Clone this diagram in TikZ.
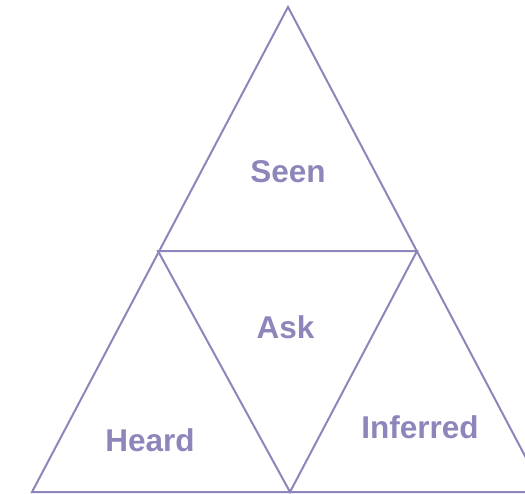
\documentclass[tikz,border=0pt]{standalone}
\usepackage{fontspec}
\setmainfont{Liberation Sans}
\definecolor{lav}{RGB}{140,134,186}
\begin{document}
\begin{tikzpicture}[x=1pt,y=-1pt,
  edge/.style={draw=lav,line width=2pt,line join=miter},
  lbl/.style={text=lav,font=\fontsize{31.5}{36}\selectfont\bfseries,inner sep=0pt,anchor=base}]
\useasboundingbox (0,0) rectangle (525,493);
\clip (0,0) rectangle (525,493);
\coordinate (A) at (288,7);
\coordinate (L) at (32,492);
\coordinate (R) at (544,492);
\coordinate (ML) at (158,251);
\coordinate (MR) at (417,251);
\coordinate (MB) at (290,492);
\draw[edge] (L) -- (A) -- (R) -- cycle;
\draw[edge] (ML) -- (MR) -- (MB) -- cycle;
\node[lbl] (seen) at (288,182) {Seen};
\node[lbl] (ask) at (285.5,338) {Ask};
\node[lbl] (heard) at (150,451) {Heard};
\node[lbl] (inf) at (420,438) {Inferred};
\end{tikzpicture}
\end{document}
